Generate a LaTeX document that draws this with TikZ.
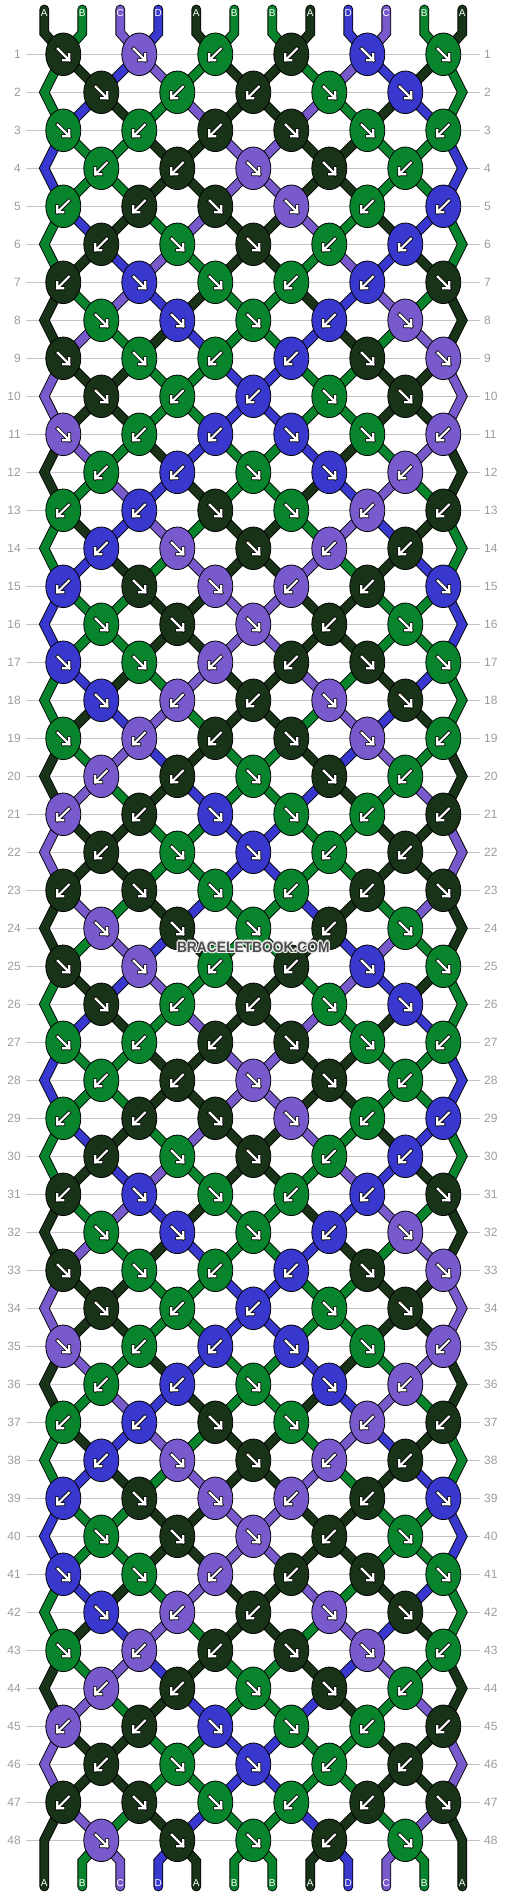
\documentclass[tikz,border=0pt]{standalone}
\usepackage{fontspec}
\setmainfont{Liberation Sans}
\usetikzlibrary{shapes.geometric}

\definecolor{strA}{HTML}{183318}
\definecolor{strB}{HTML}{08842C}
\definecolor{strC}{HTML}{785ACD}
\definecolor{strD}{HTML}{3838CF}
\definecolor{guide}{HTML}{C4C4C4}
\definecolor{rowgray}{HTML}{9C9C9C}

\pgfdeclarelayer{guides}
\pgfdeclarelayer{strands}
\pgfsetlayers{guides,strands,main}

% knot directions, 1 = forward, 0 = backward (repeats every 8 rows)
\newcommand{\setrow}[2]{\expandafter\def\csname kt#1\endcsname{#2}}
\setrow{1}{1,1,0,0,1,1}
\setrow{2}{1,0,0,1,1}
\setrow{3}{1,0,0,1,1,0}
\setrow{4}{0,0,1,1,0}
\setrow{5}{0,0,1,1,0,0}
\setrow{6}{0,1,1,0,0}
\setrow{7}{0,1,1,0,0,1}
\setrow{8}{1,1,1,0,1}

\tikzset{
  knot/.style={ellipse, draw=black, line width=0.8pt, minimum width=35pt, minimum height=42.6pt, inner sep=0pt},
  strand/.style={draw=black, line width=0.9pt, double distance=8pt, line join=miter, line cap=round},
  guideline/.style={guide, line width=1pt},
  rownum/.style={rowgray, font=\fontsize{12}{12}\selectfont, inner sep=0pt},
  strandlabel/.style={white, font=\fontsize{10}{10}\selectfont, inner sep=0pt},
  arrowback/.style={black, line width=3.8pt, line cap=rect},
  arrowfront/.style={white, line width=2.2pt, line cap=rect},
  watermark/.style={font=\fontsize{15}{15}\selectfont\bfseries, xscale=0.92, inner sep=0pt},
}

\begin{document}
\begin{tikzpicture}[x=1pt,y=-1pt]
    \useasboundingbox (0,0) rectangle (506,1896);
    % row lines and numbers
    \begin{pgfonlayer}{guides}
    \foreach \r in {1,...,48} {
        \pgfmathsetmacro\yy{54.3+38*(\r-1)}
        \draw[guideline] (26,\yy) -- (480,\yy);
        \node[rownum, anchor=east] (left\r) at (21,\yy) {\r};
        \node[rownum, anchor=west] (right\r) at (484,\yy) {\r};
    }
    \end{pgfonlayer}
    % strings at the top
    \foreach \letter [count=\p from 0] in {A,B,C,D,A,B,B,A,D,C,B,A} {
        \pgfmathsetmacro\xx{44.3+38*\p}
        \expandafter\xdef\csname col\p\endcsname{\letter}
        \expandafter\xdef\csname at\p\endcsname{\p}
        \coordinate (top\p) at (\xx,9.5);
        \coordinate (bend\p) at (\xx,33);
        \node[strandlabel] (lab\p) at (\xx,13.3) {\letter};
        \expandafter\xdef\csname route\p\endcsname{(top\p) -- (bend\p)}
    }
    % knots row by row
    \foreach \r in {1,...,48} {
        \pgfmathtruncatemacro\odd{mod(\r,2)}
        \pgfmathtruncatemacro\kr{mod(\r-1,8)+1}
        \pgfmathsetmacro\yy{54.3+38*(\r-1)}
        \ifnum\odd=0
            \coordinate (edge\r-0) at (44.3,\yy);
            \coordinate (edge\r-11) at (462.3,\yy);
            \edef\lid{\csname at0\endcsname}
            \edef\rid{\csname at11\endcsname}
            \expandafter\xdef\csname route\lid\endcsname{\csname route\lid\endcsname -- (edge\r-0)}
            \expandafter\xdef\csname route\rid\endcsname{\csname route\rid\endcsname -- (edge\r-11)}
        \fi
        \edef\types{\csname kt\kr\endcsname}
        \foreach \t [count=\j from 0] in \types {
            \pgfmathtruncatemacro\lp{2*\j+1-\odd}
            \pgfmathtruncatemacro\rp{\lp+1}
            \pgfmathsetmacro\xx{63.3+38*\lp}
            \edef\lid{\csname at\lp\endcsname}
            \edef\rid{\csname at\rp\endcsname}
            \coordinate (k\r-\j) at (\xx,\yy);
            \expandafter\xdef\csname route\lid\endcsname{\csname route\lid\endcsname -- (k\r-\j)}
            \expandafter\xdef\csname route\rid\endcsname{\csname route\rid\endcsname -- (k\r-\j)}
            \ifnum\t=1 \edef\kc{\csname col\lid\endcsname}\def\kdir{1}\else \edef\kc{\csname col\rid\endcsname}\def\kdir{-1}\fi
            \node[knot, fill=str\kc] (knot\r-\j) at (k\r-\j) {};
            \draw[arrowback, shift={(knot\r-\j.center)}, xscale=\kdir] (-5.5,-5.5) -- (6,6) (6,0) -- (6,6) -- (0,6);
            \draw[arrowfront, shift={(knot\r-\j.center)}, xscale=\kdir] (-5.5,-5.5) -- (6,6) (6,0) -- (6,6) -- (0,6);
            \expandafter\xdef\csname at\lp\endcsname{\rid}
            \expandafter\xdef\csname at\rp\endcsname{\lid}
        }
    }
    % strings at the bottom
    \foreach \p in {0,...,11} {
        \pgfmathsetmacro\xx{44.3+38*\p}
        \edef\sid{\csname at\p\endcsname}
        \coordinate (foot\p) at (\xx,1886.5);
        \ifnum\p=0 \else\ifnum\p=11 \else
            \coordinate (tail\p) at (\xx,1861.3);
            \expandafter\xdef\csname route\sid\endcsname{\csname route\sid\endcsname -- (tail\p)}
        \fi\fi
        \expandafter\xdef\csname route\sid\endcsname{\csname route\sid\endcsname -- (foot\p)}
        \node[strandlabel] (end\p) at (\xx,1883.3) {\csname col\sid\endcsname};
    }
    \begin{pgfonlayer}{strands}
    \foreach \sid in {0,...,11} {
        \edef\drawstrand{\noexpand\draw[strand, double=str\csname col\sid\endcsname] \csname route\sid\endcsname;}
        \drawstrand
    }
    \end{pgfonlayer}
    % watermark with a light halo
    \foreach \dx/\dy [count=\h] in {-1.2/0,1.2/0,0/-1.2,0/1.2,-0.9/-0.9,0.9/-0.9,-0.9/0.9,0.9/0.9} {
        \node[watermark, text=white!85!gray] (halo\h) at (253.3+\dx,947+\dy) {BRACELETBOOK.COM};
    }
    \node[watermark, text=black!70] (mark) at (253.3,947) {BRACELETBOOK.COM};
\end{tikzpicture}
\end{document}
